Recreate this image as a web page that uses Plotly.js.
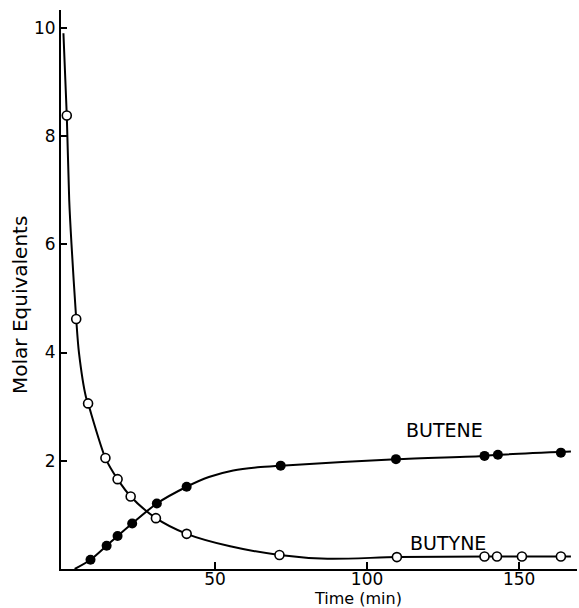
<!DOCTYPE html>
<html>
<head>
<meta charset="utf-8">
<script src="https://cdn.plot.ly/plotly-3.0.1.min.js"></script>
<style>html,body{margin:0;padding:0;background:#fff;}#chart{width:579px;height:608px;}</style>
</head>
<body>
<div id="chart"></div>
<script>
// Measured points (time in min, molar equivalents)
var butyneT = [1.3, 4.4, 8.3, 14.0, 18.0, 22.3, 30.6, 40.7, 71.2, 109.8, 138.6, 142.7, 150.9, 163.7];
var butyneY = [8.38, 4.62, 3.06, 2.05, 1.66, 1.34, 0.94, 0.65, 0.26, 0.22, 0.23, 0.23, 0.23, 0.23];
var buteneT = [9.1, 14.4, 18.0, 22.8, 30.9, 40.7, 71.6, 109.5, 138.6, 143.0, 163.7];
var buteneY = [0.17, 0.43, 0.61, 0.84, 1.21, 1.52, 1.91, 2.03, 2.09, 2.11, 2.15];

// Hand-drawn fitted curves
var butyneCurveT = [0.2, 1.3, 2.1, 2.85, 4.4, 5.3, 7.6, 8.3, 14.0, 18.0, 22.3, 30.6, 40.7, 55, 71.2, 87, 110, 140, 167];
var butyneCurveY = [9.9, 8.38, 6.82, 6.0, 4.62, 4.0, 3.18, 3.06, 2.05, 1.66, 1.34, 0.94, 0.65, 0.42, 0.26, 0.19, 0.22, 0.23, 0.23];
var buteneCurveT = [3.9, 9.1, 14.4, 18.0, 22.8, 30.9, 40.7, 48, 56, 64, 71.6, 109.5, 138.6, 143.0, 167];
var buteneCurveY = [0.0, 0.17, 0.43, 0.61, 0.84, 1.21, 1.52, 1.70, 1.82, 1.88, 1.91, 2.03, 2.09, 2.11, 2.17];

var xTicks = [50, 100, 150];
var yTicks = [2, 4, 6, 8, 10];
var seriesLabels = ['BUTENE', 'BUTYNE'];
var axisTitles = ['Time (min)', 'Molar Equivalents'];

var font = 'DejaVu Sans, sans-serif';

var traces = [
  {x: butyneCurveT, y: butyneCurveY, mode: 'lines', line: {color: '#000', width: 2, shape: 'spline', smoothing: 0.8}, hoverinfo: 'skip', showlegend: false},
  {x: buteneCurveT, y: buteneCurveY, mode: 'lines', line: {color: '#000', width: 2, shape: 'spline', smoothing: 0.8}, hoverinfo: 'skip', showlegend: false},
  {x: butyneT, y: butyneY, mode: 'markers', name: 'BUTYNE', marker: {symbol: 'circle', size: 9, color: '#fff', line: {color: '#000', width: 1.6}}, showlegend: false},
  {x: buteneT, y: buteneY, mode: 'markers', name: 'BUTENE', marker: {symbol: 'circle', size: 10, color: '#000', line: {color: '#000', width: 0}}, showlegend: false}
];

var layout = {
  width: 579, height: 608,
  margin: {l: 61, r: 2, t: 10, b: 39},
  paper_bgcolor: '#fff', plot_bgcolor: '#fff',
  font: {family: font, color: '#000', size: 18},
  showlegend: false,
  xaxis: {
    range: [-0.6, 169], tickvals: xTicks, ticktext: xTicks.map(String),
    ticks: 'inside', ticklen: 7, tickwidth: 2, tickcolor: '#000',
    showline: true, linewidth: 2, linecolor: '#000',
    showgrid: false, zeroline: false, ticklabelstandoff: -6,
    tickfont: {family: font, size: 17, color: '#000'}
  },
  yaxis: {
    range: [0, 10.33], tickvals: yTicks, ticktext: yTicks.map(String),
    ticks: 'inside', ticklen: 6, tickwidth: 2, tickcolor: '#000',
    showline: true, linewidth: 2, linecolor: '#000',
    showgrid: false, zeroline: false,
    tickfont: {family: font, size: 17, color: '#000'}
  },
  annotations: [
    {x: 125.5, y: 2.56, xref: 'x', yref: 'y', text: seriesLabels[0], showarrow: false, xanchor: 'center', yanchor: 'middle', font: {family: font, size: 19, color: '#000'}},
    {x: 126.5, y: 0.48, xref: 'x', yref: 'y', text: seriesLabels[1], showarrow: false, xanchor: 'center', yanchor: 'middle', font: {family: font, size: 19, color: '#000'}},
    {x: 358, y: 598, xref: 'paper', yref: 'paper', text: axisTitles[0], showarrow: false, xanchor: 'center', yanchor: 'middle', font: {family: font, size: 16, color: '#000'}},
    {x: 20, y: 305, xref: 'paper', yref: 'paper', text: axisTitles[1], showarrow: false, textangle: -90, xanchor: 'center', yanchor: 'middle', font: {family: font, size: 20, color: '#000'}}
  ]
};

// convert the two title annotations from pixel positions into paper fractions
(function () {
  var pw = 579 - 61 - 2, ph = 608 - 10 - 39;
  [2, 3].forEach(function (i) {
    var a = layout.annotations[i];
    a.x = (a.x - 61) / pw;
    a.y = (608 - 39 - a.y) / ph;
  });
})();

Plotly.newPlot('chart', traces, layout, {displayModeBar: false, staticPlot: true});
</script>
</body>
</html>
